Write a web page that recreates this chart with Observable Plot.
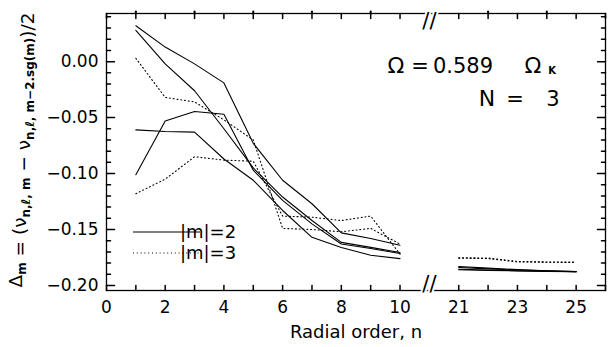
<!DOCTYPE html>
<html><head><meta charset="utf-8">
<script src="https://cdn.jsdelivr.net/npm/d3@7"></script>
<script src="https://cdn.jsdelivr.net/npm/@observablehq/plot@0.6"></script>
<style>body{margin:0;background:#fff}#chart{width:608px;height:347px}</style>
</head><body><div id="chart"></div>
<script>
// Radial orders (x) — axis broken between 10 and 21
const orders = [1,2,3,4,5,6,7,8,9,10,21,22,23,24,25];
// |m| = 2 (solid)
const m2a = [0.032, 0.013, -0.002, -0.019, -0.073, -0.106, -0.127, -0.153, -0.158, -0.164, -0.1830, -0.1845, -0.1858, -0.1868, -0.1875];
const m2b = [0.028, -0.002, -0.026, -0.060, -0.095, -0.121, -0.142, -0.1615, -0.166, -0.1705, -0.1840, -0.1852, -0.1862, -0.1870, -0.1876];
const m2c = [-0.061, -0.0625, -0.063, -0.087, -0.106, -0.133, -0.157, -0.166, -0.173, -0.176, -0.1855, -0.1862, -0.1868, -0.1873, -0.1877];
const m2d = [-0.101, -0.053, -0.0445, -0.047, -0.097, -0.124, -0.145, -0.163, -0.167, -0.1715, -0.1860, -0.1866, -0.1870, -0.1874, -0.1878];
// |m| = 3 (dotted)
const m3a = [0.003, -0.032, -0.036, -0.052, -0.070, -0.149, -0.150, -0.152, -0.149, -0.163, -0.1752, -0.1755, -0.1785, -0.1790, -0.1792];
const m3b = [-0.118, -0.105, -0.085, -0.088, -0.089, -0.138, -0.139, -0.142, -0.138, -0.172, -0.1756, -0.1760, -0.1790, -0.1792, -0.1795];

const xMajorTicks = [0,2,4,6,8,10,21,23,25];
const xAllTicks = [0,1,2,3,4,5,6,7,8,9,10,21,22,23,24,25,26];
const xTopMarks = [1,3,5,7,9,22,24];
const yMajorTicks = [-0.20,-0.15,-0.10,-0.05,0.00];
const yMinorTicks = [-0.19,-0.18,-0.17,-0.16,-0.14,-0.13,-0.12,-0.11,-0.09,-0.08,-0.07,-0.06,-0.04,-0.03,-0.02,-0.01,0.01,0.02,0.03,0.04];
const breakLow = 10, breakHigh = 21;
const xLabel = "Radial order, n";
const legendLabels = ["|m|=2", "|m|=3"];

// map order -> compressed axis position
const gap = breakHigh - breakLow - 2;
const pos = n => n > breakLow ? n - gap : n;
const breakPos = [breakLow + 1];

function rows(values, name) {
  return orders.map((n, i) => ({pos: pos(n), value: values[i], key: name + (n > breakLow ? "-hi" : "-lo")}));
}
const solidRows = [...rows(m2a,"a"), ...rows(m2b,"b"), ...rows(m2c,"c"), ...rows(m2d,"d")];
const dottedRows = [...rows(m3a,"e"), ...rows(m3b,"f")];

const tickShape = {draw(ctx, l) { ctx.moveTo(0, 0); ctx.lineTo(0, -l); }};
const fmt = d3.format(".2f");
const FONT = "DejaVu Sans";

const plot = Plot.plot({
  width: 608, height: 347,
  marginLeft: 106, marginRight: 3, marginTop: 13, marginBottom: 57,
  style: {background: "white", color: "black"},
  x: {domain: [pos(0), pos(26)], axis: null},
  y: {domain: [-0.2045, 0.043], axis: null},
  marks: [
    Plot.line(solidRows, {x: "pos", y: "value", z: "key", stroke: "black", strokeWidth: 1.1}),
    Plot.line(dottedRows, {x: "pos", y: "value", z: "key", stroke: "black", strokeWidth: 1.1, strokeDasharray: "1,2.8"}),
    Plot.frame({stroke: "black", strokeWidth: 1.3}),
    // inward ticks
    Plot.vector(yMajorTicks, {y: d => d, frameAnchor: "left", rotate: 90, length: 8, anchor: "start", shape: tickShape, stroke: "black"}),
    Plot.vector(yMinorTicks, {y: d => d, frameAnchor: "left", rotate: 90, length: 4, anchor: "start", shape: tickShape, stroke: "black"}),
    Plot.vector(yMajorTicks, {y: d => d, frameAnchor: "right", rotate: -90, length: 8, anchor: "start", shape: tickShape, stroke: "black"}),
    Plot.vector(yMinorTicks, {y: d => d, frameAnchor: "right", rotate: -90, length: 4, anchor: "start", shape: tickShape, stroke: "black"}),
    Plot.vector(xAllTicks, {x: d => pos(d), frameAnchor: "bottom", rotate: 0, length: 5, anchor: "start", shape: tickShape, stroke: "black"}),
    Plot.vector(xAllTicks, {x: d => pos(d), frameAnchor: "top", rotate: 180, length: 5, anchor: "start", shape: tickShape, stroke: "black"}),
    Plot.vector(xTopMarks, {x: d => pos(d), frameAnchor: "top", rotate: 0, length: 2, anchor: "start", shape: tickShape, stroke: "black", strokeWidth: 2}),
    // axis break marks
    Plot.text(breakPos, {x: d => d, frameAnchor: "bottom", text: () => "//", fontFamily: FONT, fontSize: 21, fill: "black", stroke: "white", strokeWidth: 4, paintOrder: "stroke"}),
    Plot.text(breakPos, {x: d => d, frameAnchor: "top", text: () => "//", fontFamily: FONT, fontSize: 21, fill: "black", stroke: "white", strokeWidth: 4, paintOrder: "stroke"}),
    // tick labels
    Plot.text(yMajorTicks, {y: d => d, frameAnchor: "left", dx: -8, textAnchor: "end", text: d => fmt(d), fontFamily: FONT, fontSize: 17}),
    Plot.text(xMajorTicks, {x: d => pos(d), frameAnchor: "bottom", dy: 22, text: d => String(d), fontFamily: FONT, fontSize: 17}),
    Plot.text([xLabel], {frameAnchor: "bottom", dy: 47, text: d => d, fontFamily: FONT, fontSize: 18})
  ]
});
plot.setAttribute("font-family", FONT);
document.getElementById("chart").appendChild(plot);

const svg = d3.select(plot);
// y-axis label with subscripts
const yl = svg.append("text")
  .attr("transform", "translate(22,150) rotate(-90)")
  .attr("text-anchor", "middle")
  .attr("font-family", FONT)
  .attr("font-size", 18.5)
  .attr("fill", "black");
const sub = (t) => { yl.append("tspan").attr("dy", 4).attr("font-size", 12).attr("font-weight", "bold").text(t); yl.append("tspan").attr("dy", -4).text(""); };
yl.append("tspan").text("Δ"); sub("m");
yl.append("tspan").text(" = (ν"); sub("n,ℓ, m");
yl.append("tspan").text(" − ν"); sub("n,ℓ, m−2.sg(m)");
yl.append("tspan").text(")/2");

// annotation
const ann = (x, y, t, size, weight) => svg.append("text").attr("x", x).attr("y", y)
  .attr("font-family", FONT)
  .attr("font-size", size)
  .attr("font-weight", weight || "normal").attr("fill", "black").text(t);
ann(396, 73, "Ω", 22); ann(420, 73, "=", 21); ann(463, 73, "0.589", 21); ann(533, 73, "Ω", 22); ann(552, 74, "K", 10, "bold");
ann(487, 106, "N", 22); ann(515, 106, "=", 21); ann(553, 106, "3", 21);

// legend
svg.append("line").attr("x1", 133).attr("x2", 200).attr("y1", 232).attr("y2", 232).attr("stroke", "black").attr("stroke-width", 1.1);
svg.append("line").attr("x1", 133).attr("x2", 200).attr("y1", 253).attr("y2", 253).attr("stroke", "black").attr("stroke-width", 1.1).attr("stroke-dasharray", "1,2.8");
legendLabels.forEach((t, i) => svg.append("text").attr("x", 208).attr("y", 238 + 21 * i)
  .attr("font-family", FONT)
  .attr("font-size", 18).attr("fill", "black").text(t));
</script>
</body></html>
